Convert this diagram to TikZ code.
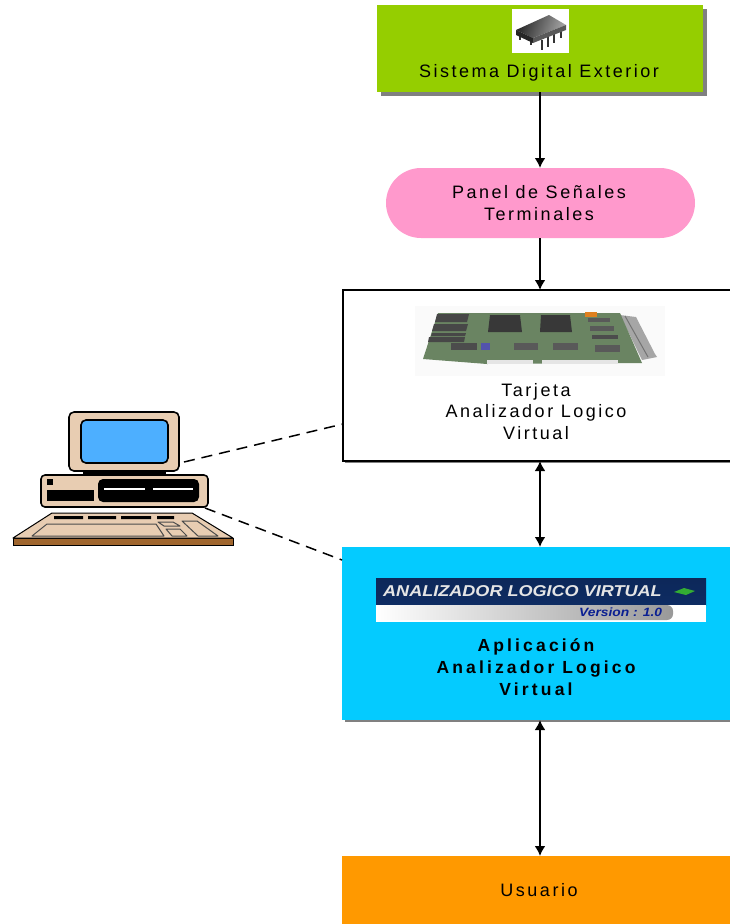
\documentclass[tikz,border=0pt]{standalone}
\usepackage{fontspec}
\setmainfont{Liberation Sans}
\newfontfamily\lbl[LetterSpace=14]{Liberation Sans}
\newfontfamily\lblb[LetterSpace=18]{Liberation Sans Bold}
\newfontfamily\bann[FakeStretch=1.15]{Liberation Sans Bold Italic}
\usetikzlibrary{arrows.meta}
\definecolor{cgreen}{HTML}{95CE00}
\definecolor{cpink}{HTML}{FF99CC}
\definecolor{cblue}{HTML}{04CBFF}
\definecolor{corange}{HTML}{FF9900}
\definecolor{cshadow}{HTML}{808080}
\definecolor{cbeige}{HTML}{E8CDB2}
\definecolor{cscreen}{HTML}{4DAFFF}
\definecolor{cwood}{HTML}{A0662E}
\definecolor{cpcb}{HTML}{6A8462}
\definecolor{cnavy}{HTML}{0E2C63}
\tikzset{
 boxbase/.style={inner sep=0pt,outer sep=0pt,rectangle},
 shadowed/.style={boxbase,preaction={fill=cshadow,transform canvas={xshift=3.5pt,yshift=-3.5pt}}},
 txt/.style={inner sep=0pt,font=\fontsize{18}{21.5}\lbl,text=black,align=center},
 txtb/.style={inner sep=0pt,font=\fontsize{17.5}{22}\lblb,text=black,align=center},
 flow/.style={line width=2pt,-{Latex[length=10pt,width=11pt]}},
 flowb/.style={line width=2pt,{Latex[length=10pt,width=11pt]}-{Latex[length=10pt,width=11pt]}},
 link/.style={line width=1.5pt,dash pattern=on 11pt off 7pt},
 pcpart/.style={draw=black,line width=1.6pt,fill=cbeige,line join=round},
 keyp/.style={draw=black!70,line width=1pt,fill=cbeige,line join=round},
 blk/.style={fill=black,draw=none},
 x=1pt,y=-1pt
}
\begin{document}
\begin{tikzpicture}
\useasboundingbox (0,0) rectangle (730,924);
\fill[white] (0,0) rectangle (730,924);
% boxes
\node[shadowed,fill=cgreen,minimum width=326pt,minimum height=87pt] (green) at (540,48.5) {};
\node[boxbase,fill=cpink,rounded corners=35pt,minimum width=309pt,minimum height=70pt] (panel) at (540.5,203) {};
\fill[cshadow] (345,459) rectangle (732,463);
\node[boxbase,draw=black,line width=1.5pt,fill=white,minimum width=394pt,minimum height=171pt] (tarjeta) at (540,375.5) {};
\fill[cshadow] (345,718) rectangle (732,722);
\node[boxbase,fill=cblue,minimum width=396pt,minimum height=173pt] (app) at (540,633.5) {};
\node[boxbase,fill=corange,minimum width=396pt,minimum height=68pt] (usuario) at (540,890) {};
% connectors
\draw[flow] (green.south) -- (panel.north -| green.south);
\draw[flow] (panel.south -| green.south) -- (tarjeta.north);
\draw[flowb] (tarjeta.south) -- (app.north);
\draw[flowb] (app.south) -- (usuario.north);
% chip picture
\fill[white] (512,9) rectangle (569,53);
\draw[black!80,line width=2pt] (520,33) -- (520,40) (531,38) -- (531,45) (542,40) -- (542,50) (548,37) -- (548,47) (554,34) -- (554,43) (561,29) -- (561,38);
\shade[left color=black!85,right color=black!35,shading angle=70] (516,30) -- (549,15) -- (566,25) -- (533,38) -- cycle;
\fill[black!85] (516,30) -- (533,38) -- (533,43) -- (516,35) -- cycle;
\fill[black!65] (533,38) -- (566,25) -- (566,30) -- (533,43) -- cycle;
% board picture
\fill[black!2] (415,306) rectangle (665,376);
\fill[black!35] (620,315) -- (636,317) -- (655,354) -- (657,357) -- (642,360) -- cycle;
\draw[black!55,line width=1pt] (625,316) -- (648,357);
\fill[cpcb] (438,313) -- (620,313) -- (642,363) -- (487,364) -- (423,359) -- cycle;
\fill[black!72] (437,314) -- (469,314) -- (467,322) -- (435,322) -- cycle;
\fill[black!72] (434,324) -- (468,324) -- (466,331) -- (432,331) -- cycle;
\fill[black!72] (432,333) -- (466,333) -- (465,336) -- (431,336) -- cycle;
\fill[black!72] (429,337) -- (465,337) -- (464,342) -- (428,342) -- cycle;
\fill[black!78] (490,315) -- (520,315) -- (522,332) -- (488,332) -- cycle;
\fill[black!78] (541,315) -- (570,315) -- (572,332) -- (540,332) -- cycle;
\fill[black!70] (451,343) rectangle (477,350);
\fill[black!65] (514,343) rectangle (538,350);
\fill[black!65] (553,343) rectangle (578,350);
\fill[black!65] (588,318) rectangle (610,322);
\fill[black!65] (590,326) rectangle (614,331);
\fill[black!70] (592,335) rectangle (618,339);
\fill[black!65] (595,345) rectangle (620,352);
\fill[orange!75!gray] (585,312) rectangle (597,317);
\fill[blue!35!gray] (481,343) rectangle (490,350);
\fill[black!10] (487,360) rectangle (533,364);
\fill[black!10] (542,360) rectangle (618,364);
% banner picture
\shade[top color=cnavy!90!black,bottom color=cnavy] (376,578) rectangle (706,605);
\fill[white] (376,605) rectangle (706,622);
\shade[left color=white,right color=black!40,rounded corners=6pt] (376,605) rectangle (673,620);
\node[inner sep=0pt,anchor=west,font=\fontsize{15.7}{18}\bann,text=white!90!black] (bannertitle) at (383,591.5) {ANALIZADOR LOGICO VIRTUAL};
\node[inner sep=0pt,anchor=west,font=\fontsize{12}{14}\bann,text=cnavy!70!blue] (bannerver) at (579,612.5) {Version : 1.0};
\fill[green!60!black!80!white] (674,592) -- (684,588) -- (695,591) -- (686,595) -- cycle;
% labels
\node[txt] (t1) at (539,72.5) {Sistema Digital Exterior};
\node[txt] (t2) at (539,203) {Panel de Señales\\Terminales};
\node[txt] (t3) at (536,411.5) {Tarjeta\\Analizador Logico\\Virtual};
\node[txtb] (t4) at (536,667) {Aplicación\\Analizador Logico\\Virtual};
\node[txt] (t5) at (539,890) {Usuario};
% computer
\node[boxbase,pcpart,rounded corners=5pt,minimum width=110pt,minimum height=59pt] (monitor) at (124,441.5) {};
\node[boxbase,draw=black,line width=1.6pt,fill=cscreen,rounded corners=5pt,minimum width=87pt,minimum height=43pt] (screen) at (124.5,441.5) {};
\fill[black] (83,471) rectangle (166,475);
\node[boxbase,pcpart,rounded corners=4pt,minimum width=167pt,minimum height=32pt] (tower) at (124.5,491) {};
\fill[black] (47,479) rectangle (53,485);
\fill[black] (47,490) rectangle (94,501);
\node[boxbase,blk,rounded corners=5pt,minimum width=101pt,minimum height=23pt] (drives) at (148.5,490.5) {};
\draw[white,line width=1.2pt] (104,489) -- (145,489) (153,489) -- (193,489);
\fill[cwood,draw=black,line width=.8pt] (13,538) rectangle (233,545);
\draw[pcpart,line width=1pt] (52,513) -- (192,513) -- (233,538) -- (13,538) -- cycle;
\fill[black] (54,516) rectangle (83,519) (88,516) rectangle (116,519) (121,516) rectangle (151,519) (157,516) rectangle (174,519);
\draw[keyp] (47,524) -- (156,524) -- (164,536) -- (32,536) -- cycle;
\draw[keyp] (158,522) -- (173,522) -- (180,526) -- (164,526) -- cycle;
\draw[keyp] (166,529) -- (180,529) -- (187,536) -- (172,536) -- cycle;
\draw[keyp] (182,521) -- (197,521) -- (218,536) -- (198,536) -- cycle;
% dashed links
\coordinate (tin) at (343,424);
\coordinate (ain) at (342,560);
\coordinate (mon) at (184,462);
\coordinate (tow) at (205,508);
\draw[link] (mon) -- (tin);
\draw[link] (tow) -- (ain);
\end{tikzpicture}
\end{document}
